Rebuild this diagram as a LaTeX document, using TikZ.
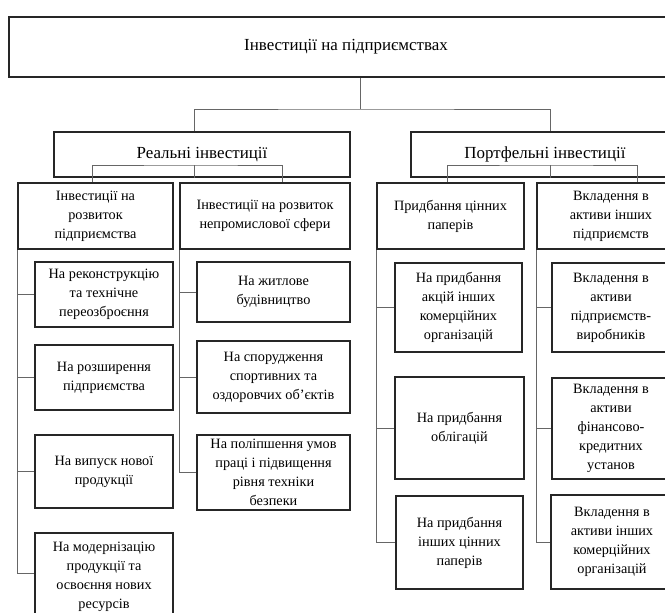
\documentclass[tikz,border=0pt]{standalone}
\usepackage{fontspec}
\setmainfont{Liberation Serif}
\newcommand\mkbox[7][]{% opts, name, l, t, r, b, text
  \node[tbox,#1, minimum width={(#5-#3)*0.75pt}, minimum height={(#6-#4)*0.75pt}] (#2) at ({(#3+#5)/2},{(#4+#6)/2}) {#7};}
\begin{document}
\begin{tikzpicture}[x=0.75pt,y=-0.75pt,
  tbox/.style={draw=black!85, line width=1.1pt, rectangle, inner sep=0pt, align=center,
     font=\fontsize{10.7}{14.2}\selectfont, text=black},
  big/.style={font=\fontsize{12.7}{15}\selectfont},
  conn/.style={draw=black!60, line width=0.7pt}]
\clip (0,0) rectangle (665,613);
\fill[white] (0,0) rectangle (665,613);
% level 1 and 2
\mkbox[big]{top}{9}{17}{683}{77}{Інвестиції на підприємствах}
\mkbox[big]{real}{54}{132}{350}{177}{Реальні інвестиції}
\mkbox[big]{port}{411}{132}{679}{177}{Портфельні інвестиції}
% level 3
\mkbox{A}{18}{183}{173}{249}{Інвестиції на\\розвиток\\підприємства}
\mkbox{B}{180}{183}{350}{249}{Інвестиції на розвиток\\непромислової сфери}
\mkbox{C}{377}{183}{524}{249}{Придбання цінних\\паперів}
\mkbox{D}{537}{183}{685}{249}{Вкладення в\\активи інших\\підприємств}
% level 4, A
\mkbox{A1}{35}{262}{173}{327}{На реконструкцію\\та технічне\\переозброєння}
\mkbox{A2}{35}{345}{173}{410}{На розширення\\підприємства}
\mkbox{A3}{35}{435}{173}{508}{На випуск нової\\продукції}
\mkbox{A4}{35}{533}{173}{620}{На модернізацію\\продукції та\\освоєння нових\\ресурсів}
% level 4, B
\mkbox{B1}{197}{262}{350}{322}{На житлове\\будівництво}
\mkbox{B2}{197}{341}{350}{413}{На спорудження\\спортивних та\\оздоровчих об’єктів}
\mkbox{B3}{197}{435}{350}{510}{На поліпшення умов\\праці і підвищення\\рівня техніки\\безпеки}
% level 4, C
\mkbox{C1}{395}{263}{522}{352}{На придбання\\акцій інших\\комерційних\\організацій}
\mkbox{C2}{395}{377}{524}{479}{На придбання\\облігацій}
\mkbox{C3}{396}{496}{523}{589}{На придбання\\інших цінних\\паперів}
% level 4, D
\mkbox{D1}{552}{263}{670}{352}{Вкладення в\\активи\\підприємств-\\виробників}
\mkbox{D2}{552}{378}{670}{479}{Вкладення в\\активи\\фінансово-\\кредитних\\установ}
\mkbox{D3}{551}{495}{673}{589}{Вкладення в\\активи інших\\комерційних\\організацій}
% connectors top
\coordinate (jt) at (360,109);
\draw[conn] (top.south -| jt) -- (jt);
\draw[conn] (real.north -| 194,0) |- (jt) -| (port.north -| 550,0);
\coordinate (jr) at (194,165);
\draw[conn] (real.south -| jr) -- (jr);
\draw[conn] (A.north -| 92,0) |- (jr) -| (B.north -| 282,0);
\coordinate (jp) at (550,165);
\draw[conn] (port.south -| jp) -- (jp);
\draw[conn] (C.north -| 447,0) |- (jp) -| (D.north -| 637,0);
% trunks
\draw[conn] (A.south west) |- ([yshift=2.5pt]A4.west);
\draw[conn] (A.south west |- A1.west) -- (A1.west);
\draw[conn] (A.south west |- A2.west) -- (A2.west);
\draw[conn] (A.south west |- A3.west) -- (A3.west);
\draw[conn] (B.south west) |- (B3.west);
\draw[conn] (B.south west |- B1.west) -- (B1.west);
\draw[conn] (B.south west |- B2.west) -- (B2.west);
\draw[conn] (C.south west) |- (C3.west);
\draw[conn] (C.south west |- C1.west) -- (C1.west);
\draw[conn] (C.south west |- C2.west) -- (C2.west);
\draw[conn] (D.south west) |- (D3.west);
\draw[conn] (D.south west |- D1.west) -- (D1.west);
\draw[conn] (D.south west |- D2.west) -- (D2.west);
\end{tikzpicture}
\end{document}
